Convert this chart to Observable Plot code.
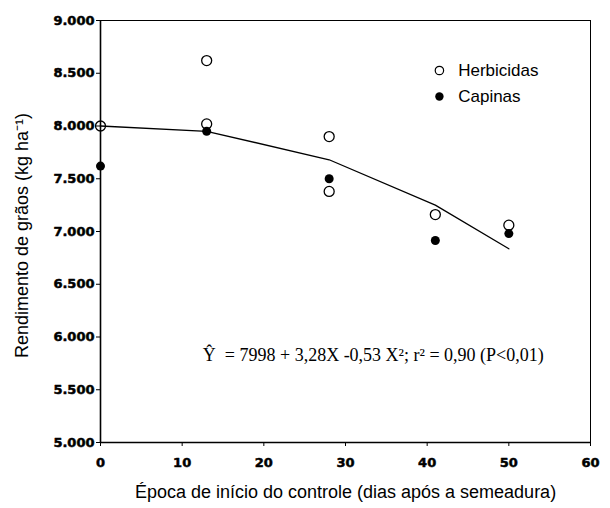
<!DOCTYPE html>
<html>
<head>
<meta charset="utf-8">
<script src="https://cdn.jsdelivr.net/npm/d3@7"></script>
<script src="https://cdn.jsdelivr.net/npm/@observablehq/plot@0.6"></script>
<style>
  html, body { margin: 0; padding: 0; background: white; }
</style>
</head>
<body>
<div id="chart"></div>
<script>
// Data
const herbX = [0, 13, 13, 28, 28, 41, 50];
const herbY = [8000, 8620, 8020, 7900, 7380, 7160, 7060];
const capX = [0, 13, 28, 41, 50];
const capY = [7620, 7950, 7500, 6915, 6980];
const fitX = [0, 13, 28, 41, 50];
const fitY = [8000, 7950, 7680, 7250, 6836];
const xTicks = [0, 10, 20, 30, 40, 50, 60];
const yTicks = [5000, 5500, 6000, 6500, 7000, 7500, 8000, 8500, 9000];
const legendLabels = ["Herbicidas", "Capinas"];
const equation = "Ŷ  = 7998 + 3,28X -0,53 X²; r² = 0,90 (P<0,01)";
const xLabel = "Época de início do controle (dias após a semeadura)";
const yLabel = "Rendimento de grãos (kg ha⁻¹)";

const herb = herbX.map((x, i) => ({x, y: herbY[i]}));
const cap = capX.map((x, i) => ({x, y: capY[i]}));
const fit = fitX.map((x, i) => ({x, y: fitY[i]}));

const tickFont = "'DejaVu Sans', sans-serif";

const chart = Plot.plot({
  width: 610,
  height: 508,
  marginLeft: 100,
  marginRight: 20,
  marginTop: 20,
  marginBottom: 66,
  style: {fontFamily: "'Liberation Sans', Arial, sans-serif", background: "white", color: "black"},
  x: {domain: [0, 60]},
  y: {domain: [5000, 9000]},
  marks: [
    Plot.frame({stroke: "black", strokeWidth: 1}),
    Plot.axisX({ticks: xTicks, tickSize: 4, label: null, tickFormat: () => ""}),
    Plot.axisY({ticks: yTicks, tickSize: 4, label: null, tickFormat: () => ""}),
    // tick labels
    Plot.text(xTicks, {x: d => d, frameAnchor: "bottom", dy: 20, textAnchor: "middle", lineAnchor: "middle",
      text: d => String(d), fontFamily: tickFont, fontWeight: "bold", fontSize: 13,
      fill: "black", stroke: "black", strokeWidth: 0.5}),
    Plot.text(yTicks, {y: d => d, frameAnchor: "left", dx: -6, textAnchor: "end", lineAnchor: "middle",
      text: d => (d / 1000).toFixed(3), fontFamily: tickFont, fontWeight: "bold", fontSize: 13,
      fill: "black", stroke: "black", strokeWidth: 0.5}),
    Plot.ruleX([0], {stroke: "black", strokeWidth: 1.6}),
    Plot.ruleY([5000], {stroke: "black", strokeWidth: 1.6}),
    Plot.line(fit, {x: "x", y: "y", stroke: "black", strokeWidth: 1.3}),
    Plot.dot(cap, {x: "x", y: "y", r: 4.5, fill: "black", stroke: "none"}),
    Plot.dot(herb, {x: "x", y: "y", r: 5, fill: "none", stroke: "black", strokeWidth: 1.3}),
    // legend
    Plot.dot([legendLabels[0]], {x: 41.5, y: 8526, r: 4.2, fill: "none", stroke: "black", strokeWidth: 1.2}),
    Plot.dot([legendLabels[1]], {x: 41.5, y: 8280, r: 4.2, fill: "black"}),
    Plot.text(legendLabels, {x: 43.8, y: (d, i) => i === 0 ? 8526 : 8280, text: d => d, textAnchor: "start", fontSize: 17}),
    // equation
    Plot.text([equation], {x: 33.4, y: 5830, text: d => d, fontSize: 18, fontFamily: "'Liberation Serif', 'Times New Roman', serif"}),
    // axis labels
    Plot.text([xLabel], {frameAnchor: "bottom", dy: 50, textAnchor: "middle", lineAnchor: "middle", text: d => d, fontSize: 18}),
    Plot.text([yLabel], {frameAnchor: "left", dx: -78, dy: 4, rotate: -90, textAnchor: "middle", lineAnchor: "middle", text: d => d, fontSize: 18})
  ]
});
document.getElementById("chart").appendChild(chart);
</script>
</body>
</html>
